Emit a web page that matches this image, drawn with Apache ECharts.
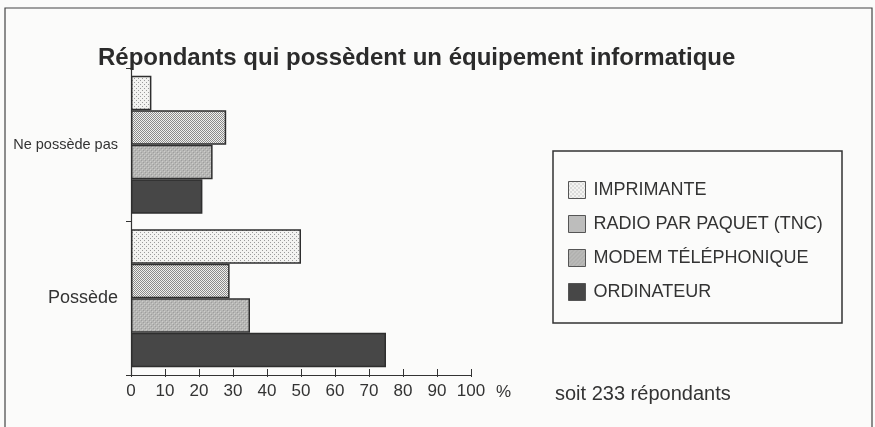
<!DOCTYPE html>
<html><head><meta charset="utf-8">
<script src="https://cdn.jsdelivr.net/npm/echarts@6/dist/echarts.min.js"></script>
<style>html,body{margin:0;padding:0;background:#fbfbfa;}#c{width:875px;height:427px;}</style>
</head><body><div id="c"></div>
<script>
var categories = ['Possède', 'Ne possède pas'];
var seriesNames = ['IMPRIMANTE', 'RADIO PAR PAQUET (TNC)', 'MODEM TÉLÉPHONIQUE', 'ORDINATEUR'];
var imprimante = [50, 6];
var radio = [29, 28];
var modem = [35, 24];
var ordinateur = [75, 21];
var xTicks = [0, 10, 20, 30, 40, 50, 60, 70, 80, 90, 100];
var legendOrder = ['IMPRIMANTE', 'RADIO PAR PAQUET (TNC)', 'MODEM TÉLÉPHONIQUE', 'ORDINATEUR'];

function makePattern(kind) {
  var c = document.createElement('canvas');
  var s = 4; c.width = s; c.height = s;
  var g = c.getContext('2d');
  if (kind === 'imp') {
    g.fillStyle = '#f3f3f1'; g.fillRect(0, 0, s, s);
    g.fillStyle = '#9a9a9a';
    g.fillRect(0, 0, 1, 1); g.fillRect(2, 2, 1, 1);
  } else if (kind === 'radio') {
    g.fillStyle = '#f0f0ee'; g.fillRect(0, 0, s, s);
    g.fillStyle = '#8a8a8a';
    g.fillRect(0, 0, 1, 1); g.fillRect(2, 0, 1, 1); g.fillRect(1, 1, 1, 1); g.fillRect(3, 1, 1, 1);
    g.fillRect(0, 2, 1, 1); g.fillRect(2, 2, 1, 1); g.fillRect(1, 3, 1, 1); g.fillRect(3, 3, 1, 1);
  } else if (kind === 'modem') {
    g.fillStyle = '#b6b6b4'; g.fillRect(0, 0, s, s);
    g.fillStyle = '#9e9e9e';
    g.fillRect(1, 0, 1, 1); g.fillRect(3, 2, 1, 1);
    g.fillStyle = '#cdcdcb';
    g.fillRect(0, 3, 1, 1); g.fillRect(2, 1, 1, 1);
  }
  return { image: c, repeat: 'repeat' };
}

var fills = {
  'ORDINATEUR': '#474747',
  'MODEM TÉLÉPHONIQUE': makePattern('modem'),
  'RADIO PAR PAQUET (TNC)': makePattern('radio'),
  'IMPRIMANTE': makePattern('imp')
};
var values = {
  'ORDINATEUR': ordinateur,
  'MODEM TÉLÉPHONIQUE': modem,
  'RADIO PAR PAQUET (TNC)': radio,
  'IMPRIMANTE': imprimante
};

var chart = echarts.init(document.getElementById('c'));
var textColor = '#333';
var FF = 'Liberation Sans';
var series = seriesNames.map(function (n) {
  return {
    name: n, type: 'bar', data: values[n],
    barGap: '0%', barCategoryGap: '10%',
    itemStyle: { color: fills[n], borderColor: '#2e2e2e', borderWidth: 1.5 },
    emphasis: { disabled: true }
  };
});

chart.setOption({
  backgroundColor: '#fbfbfa',
  animation: false,
  title: {
    text: 'Répondants qui possèdent un équipement informatique',
    left: 93, top: 41,
    textStyle: { fontFamily: FF, fontWeight: 'bold', fontSize: 24, color: '#2b2b2b' }
  },
  grid: { left: 131, right: 404, top: 68, bottom: 52, containLabel: false },
  legend: {
    data: legendOrder, orient: 'vertical', left: 563, top: 176,
    itemWidth: 17, itemHeight: 17, itemGap: 16, icon: 'rect',
    selectedMode: false,
    textStyle: { fontFamily: FF, fontSize: 18, color: textColor, padding: [0, 0, 0, 3] },
    itemStyle: { borderColor: '#555', borderWidth: 1 }
  },
  xAxis: [{
    type: 'value', min: 0, max: 100, interval: 10,
    axisLine: { show: true, lineStyle: { color: '#333', width: 1.2 } },
    axisTick: { show: true, inside: true, length: 6, lineStyle: { color: '#333' } },
    axisLabel: { color: textColor, fontFamily: FF, fontSize: 17, margin: 8,
      formatter: function (v) { return xTicks.indexOf(v) >= 0 ? String(v) : ''; } },
    splitLine: { show: false }
  }, {
    type: 'value', min: 0, max: 100, interval: 10, position: 'bottom',
    axisLine: { show: false },
    axisTick: { show: true, inside: false, length: 2, lineStyle: { color: '#333' } },
    axisLabel: { show: false }, splitLine: { show: false }
  }],
  yAxis: {
    type: 'category', data: categories,
    axisLine: { show: true, lineStyle: { color: '#333', width: 1.2 } },
    axisTick: { show: true, length: 5, lineStyle: { color: '#333' } },
    axisLabel: {
      color: textColor, fontFamily: FF, margin: 13,
      formatter: function (v) { return v === 'Ne possède pas' ? '{s|' + v + '}' : '{b|' + v + '}'; },
      rich: {
        s: { fontSize: 14.5, fontFamily: FF, color: textColor },
        b: { fontSize: 18, fontFamily: FF, color: textColor }
      }
    }
  },
  series: series,
  graphic: [
    { type: 'rect', shape: { x: 5, y: 8, width: 867, height: 430 }, style: { fill: 'none', stroke: '#444', lineWidth: 1.2 }, silent: true },
    { type: 'rect', shape: { x: 553, y: 151, width: 289, height: 172 }, style: { fill: 'none', stroke: '#333', lineWidth: 1.5 }, silent: true },
    { type: 'text', left: 496, top: 384, style: { text: '%', fontFamily: FF, fontSize: 17, fill: textColor } },
    { type: 'text', left: 555, top: 384, style: { text: 'soit 233 répondants', fontFamily: FF, fontSize: 20, fill: textColor } }
  ]
});
</script></body></html>
